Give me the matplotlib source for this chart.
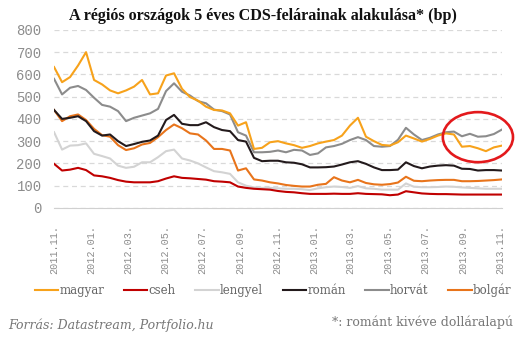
import numpy as np
import pandas as pd
import matplotlib
matplotlib.use("Agg")
import matplotlib.pyplot as plt
import matplotlib.dates as mdates
from matplotlib.patches import Ellipse

# data (bp), roughly every 13 days
dates = pd.date_range("2011-11-01", "2013-11-04", periods=57)

magyar = [633, 565, 588, 640, 700, 575, 555, 528, 515, 528, 545, 575, 510, 515, 595,
          605, 535, 498, 482, 455, 440, 438, 425, 370, 385, 265, 270, 295, 300, 290,
          282, 270, 278, 290, 298, 305, 325, 370, 405, 320, 300, 283, 280, 295, 325,
          312, 298, 310, 325, 335, 330, 275, 278, 268, 255, 272, 280]
cseh = [198, 168, 172, 180, 170, 146, 142, 135, 125, 118, 115, 115, 115, 120, 132,
        142, 135, 133, 130, 127, 120, 118, 115, 96, 90, 86, 84, 82, 76, 72,
        70, 66, 63, 63, 63, 64, 63, 63, 66, 63, 62, 61, 57, 60, 75,
        70, 65, 63, 62, 62, 61, 60, 60, 60, 60, 60, 60]
lengyel = [340, 262, 280, 282, 290, 243, 233, 222, 190, 180, 185, 205, 205, 228, 255,
           262, 222, 213, 200, 182, 165, 160, 153, 115, 100, 92, 90, 90, 88, 86,
           86, 84, 80, 88, 93, 96, 94, 90, 98, 88, 86, 82, 82, 82, 110,
           95, 93, 93, 94, 96, 95, 92, 90, 88, 86, 86, 86]
roman = [440, 400, 405, 412, 390, 345, 325, 330, 300, 278, 287, 297, 303, 325, 395,
         418, 378, 372, 372, 385, 363, 350, 345, 305, 298, 225, 210, 212, 212, 205,
         203, 196, 182, 182, 183, 186, 195, 205, 210, 198, 182, 170, 170, 172, 205,
         188, 178, 186, 190, 192, 190, 176, 175, 168, 170, 170, 168]
horvat = [580, 510, 540, 548, 530, 495, 463, 455, 435, 390, 405, 415, 425, 445, 525,
          560, 522, 505, 480, 470, 442, 435, 420, 340, 325, 250, 250, 252, 258, 250,
          261, 258, 238, 245, 272, 278, 288, 305, 318, 305, 278, 275, 278, 306, 360,
          330, 305, 315, 330, 340, 343, 322, 333, 320, 322, 332, 352]
bolgar = [440, 390, 412, 420, 395, 355, 327, 320, 282, 260, 268, 285, 292, 318, 350,
          375, 358, 335, 330, 303, 265, 265, 258, 168, 178, 128, 123, 115, 110, 103,
          99, 96, 96, 104, 108, 138, 123, 115, 126, 112, 106, 104, 107, 114, 140,
          122, 120, 123, 125, 126, 126, 120, 120, 121, 123, 125, 128]

labels = ["magyar", "cseh", "lengyel", "román", "horvát", "bolgár"]
series = [magyar, cseh, lengyel, roman, horvat, bolgar]
colors = ["#F7A21B", "#C00000", "#D3D3D3", "#231A1C", "#8C8C8C", "#E8741B"]
tick_dates = pd.date_range("2011-11-01", "2013-11-01", freq="2MS")

fig = plt.figure(figsize=(5.25, 3.56), dpi=100)
ax = fig.add_axes([0.103, 0.416, 0.853, 0.5])

# draw back to front so the light lines don't cover the dark ones
for i in [2, 1, 5, 3, 4, 0]:
    ax.plot(dates, series[i], color=colors[i], lw=1.5, label=labels[i])

ax.set_ylim(0, 800)
ax.set_xlim(dates[0], dates[-1])
ax.set_yticks(range(0, 801, 100))
ax.set_xticks(tick_dates)
ax.xaxis.set_major_formatter(mdates.DateFormatter("%Y.%m."))
ax.yaxis.grid(True, color="#D9D9D9", ls=(0, (4, 3)), lw=0.9)
ax.set_axisbelow(True)
for s in ["top", "right", "left"]:
    ax.spines[s].set_visible(False)
ax.spines["bottom"].set_color("#D0D0D0")
ax.tick_params(length=0)
ax.tick_params(axis="y", pad=9, labelsize=10, labelcolor="#8C8C8C")
ax.tick_params(axis="x", pad=12, labelsize=7.3, labelcolor="#8C8C8C", rotation=90)
for t in ax.get_xticklabels() + ax.get_yticklabels():
    t.set_family("Liberation Mono")

# red ellipse round the last two months
ell = Ellipse((mdates.date2num(dates[53]), 318), width=115, height=225,
              fill=False, ec="#E3191C", lw=1.9, clip_on=False, zorder=5)
ax.add_patch(ell)

fig.text(0.5, 0.955, "A régiós országok 5 éves CDS-felárainak alakulása* (bp)",
         ha="center", va="center", fontsize=11.6, fontweight="bold",
         family="Liberation Serif", color="#111111")

handles, labs = ax.get_legend_handles_labels()
order = [labs.index(l) for l in labels]
fig.legend([handles[i] for i in order], [labs[i] for i in order],
           loc="center", bbox_to_anchor=(0.52, 0.185), ncol=6, frameon=False,
           handlelength=2.0, handletextpad=0.1, columnspacing=1.65,
           prop={"family": "DejaVu Serif", "size": 8.5}, labelcolor="#666666")

fig.text(0.015, 0.085, "Forrás: Datastream, Portfolio.hu", ha="left", va="center",
         fontsize=9, style="italic", family="DejaVu Serif", color="#777777")
fig.text(0.977, 0.095, "*: románt kivéve dolláralapú", ha="right", va="center",
         fontsize=9, family="DejaVu Serif", color="#777777")

fig.savefig("out.png", dpi=100)
